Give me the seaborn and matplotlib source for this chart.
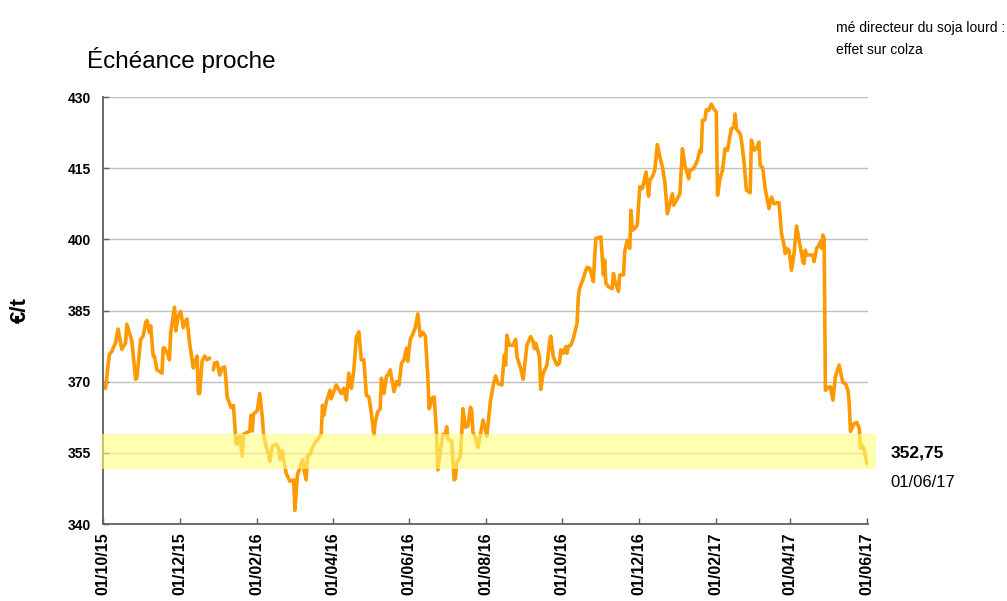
import numpy as np
import pandas as pd
import matplotlib
matplotlib.use("Agg")
import matplotlib.pyplot as plt
import matplotlib.dates as mdates
import matplotlib.transforms as mtransforms
import seaborn as sns

# --- DONNÉES ---
DEBUT = "2015-10-01"
FIN = "2017-06-02"

# jours depuis le 01/10/15 (NaN = trou de Noël)
jours = [
    0, 2, 5, 7, 10, 12, 15, 18, 19, 23,
    26, 27, 30, 32, 34, 35, 37, 38, 40, 41,
    43, 47, 48, 49, 51, 53, 54, 57, 58, 60,
    62, 64, 66, 67, 69, 72, 73, 75, 76, 77,
    79, 81, 83, 85, 86, 88, 89, 91, 93, 95,
    97, 98, 99, 102, 104, 106, 107, 109, 111, 112,
    115, 117, 118, 119, 120, 123, 125, 127, 128, 130,
    132, 133, 135, 138, 140, 141, 143, 144, 146, 148,
    149, 152, 153, 155, 157, 159, 160, 162, 163, 165,
    167, 169, 172, 174, 175, 176, 178, 181, 182, 184,
    186, 189, 190, 192, 194, 196, 198, 200, 202, 204,
    206, 208, 210, 212, 214, 216, 217, 219, 221, 222,
    224, 226, 228, 229, 232, 234, 236, 238, 240, 242,
    243, 245, 247, 249, 250, 251, 253, 255, 257, 259,
    260, 261, 262, 264, 266, 267, 269, 271, 273, 274,
    275, 277, 278, 280, 281, 282, 285, 286, 287, 289,
    291, 293, 294, 295, 297, 299, 301, 303, 305, 306,
    309, 311, 313, 315, 318, 320, 321, 322, 324, 327,
    329, 330, 333, 335, 337, 338, 341, 343, 344, 345,
    348, 349, 351, 354, 356, 357, 359, 362, 364, 365,
    367, 369, 370, 371, 373, 375, 378, 379, 380, 383,
    385, 386, 388, 390, 391, 392, 393, 397, 399, 400,
    401, 403, 406, 407, 408, 411, 412, 415, 416, 418,
    420, 421, 422, 424, 426, 428, 430, 431, 433, 435,
    436, 438, 440, 442, 444, 446, 448, 450, 452, 454,
    455, 458, 460, 462, 464, 467, 468, 471, 474, 476,
    477, 478, 480, 481, 483, 485, 487, 489, 490, 492,
    494, 496, 498, 500, 501, 503, 504, 505, 508, 509,
    511, 513, 516, 517, 519, 521, 523, 524, 526, 528,
    531, 533, 535, 537, 539, 541, 543, 544, 545, 547,
    549, 551, 553, 555, 557, 558, 559, 560, 561, 564,
    566, 567, 569, 571, 572, 573, 574, 575, 576, 579,
    580, 582, 584, 587, 588, 590, 592, 594, 595, 596,
    599, 601, 603, 604, 605, 607, 609,
]

prix = [
    368.9, 368.6, 375.7, 376.4, 378.2, 381.1, 376.8, 378.2, 382.1, 378.6,
    370.5, 370.7, 378.9, 379.6, 382.5, 382.9, 380.4, 381.8, 375.4, 375.4,
    372.5, 371.8, 377.1, 377.1, 376.1, 374.6, 380.4, 385.7, 380.7, 383.9,
    384.8, 381.4, 382.9, 383.2, 378.2, 372.9, 373.9, 375.4, 367.5, 367.5,
    374.3, 375.4, 374.6, 375.0, np.nan, 372.5, 373.9, 374.1, 371.4, 372.9,
    373.1, 370.4, 366.8, 364.6, 365.0, 357.1, 356.8, 358.6, 354.3, 358.9,
    359.3, 359.6, 362.9, 359.6, 363.2, 363.9, 367.5, 362.5, 358.9, 356.4,
    354.6, 353.2, 356.4, 356.8, 356.1, 353.6, 355.4, 353.6, 350.7, 349.6,
    349.0, 349.3, 342.9, 350.4, 351.8, 353.6, 351.8, 349.3, 354.3, 354.6,
    356.1, 357.1, 358.2, 358.9, 365.0, 362.9, 365.7, 368.2, 366.4, 367.9,
    369.3, 367.9, 367.5, 368.6, 366.1, 371.8, 368.6, 372.5, 379.3, 380.5,
    374.6, 374.6, 367.1, 366.8, 363.2, 358.8, 361.4, 363.6, 364.3, 370.7,
    367.5, 371.1, 371.8, 372.5, 367.9, 370.0, 369.3, 373.9, 374.6, 377.1,
    374.3, 378.9, 380.0, 381.4, 382.9, 384.3, 379.6, 380.4, 379.6, 371.1,
    364.3, 365.0, 366.4, 366.8, 358.9, 351.4, 355.4, 358.9, 358.9, 360.5,
    357.9, 357.5, 357.5, 349.3, 349.6, 352.9, 354.3, 358.9, 364.3, 360.4,
    360.7, 364.6, 363.9, 359.3, 358.2, 356.1, 359.0, 361.9, 359.8, 358.5,
    366.1, 369.0, 371.2, 369.6, 369.3, 375.6, 373.5, 379.8, 377.7, 377.7,
    378.9, 375.3, 372.8, 370.5, 375.3, 377.7, 379.5, 378.4, 377.0, 378.1,
    375.3, 368.4, 371.8, 373.5, 378.1, 379.6, 375.3, 373.5, 373.9, 376.7,
    376.0, 377.4, 376.0, 377.4, 377.7, 379.1, 382.3, 387.9, 389.6, 391.8,
    393.5, 394.1, 393.9, 392.1, 391.1, 396.3, 400.2, 400.5, 392.5, 395.6,
    390.7, 390.0, 389.6, 392.8, 391.4, 389.0, 392.5, 392.5, 397.4, 399.8,
    398.1, 406.1, 401.9, 402.3, 403.0, 411.1, 410.7, 411.8, 414.2, 409.1,
    412.5, 413.2, 414.6, 420.0, 417.4, 415.3, 412.1, 405.4, 407.5, 409.6,
    407.2, 408.6, 409.6, 419.1, 415.6, 412.8, 414.6, 414.9, 416.7, 418.8,
    418.4, 425.1, 425.2, 427.3, 427.2, 428.5, 427.5, 426.8, 409.3, 412.8,
    414.6, 419.1, 418.8, 421.9, 423.3, 423.7, 426.4, 423.3, 422.3, 420.9,
    416.7, 410.4, 409.8, 420.9, 418.8, 419.1, 420.5, 415.6, 415.1, 410.7,
    406.5, 408.9, 407.5, 407.7, 407.7, 401.2, 398.8, 397.0, 398.1, 397.7,
    393.5, 397.0, 402.8, 399.8, 397.0, 395.3, 394.9, 397.7, 396.7, 396.7,
    396.7, 395.3, 398.1, 398.8, 399.5, 398.1, 400.9, 400.2, 368.2, 368.9,
    368.9, 366.1, 371.1, 373.5, 372.1, 369.8, 369.6, 368.2, 365.4, 359.5,
    361.2, 361.4, 360.2, 356.0, 356.7, 355.6, 352.75,
]

zone_basse = [351.6, 359.0]
y_ticks = [340, 355, 370, 385, 400, 415, 430]
dernier_prix = "352,75"
derniere_date = "01/06/17"
titre = "Échéance proche"
commentaire = ["mé directeur du soja lourd :", "effet sur colza"]

# --- STYLE ---
sns.set_theme(style="white")
plt.rcParams["font.family"] = ["Liberation Sans", "DejaVu Sans"]
plt.rcParams["text.color"] = "black"

ORANGE = "#FF9900"
GRIS = "#5f5f5f"

df = pd.DataFrame({
    "date": pd.Timestamp(DEBUT) + pd.to_timedelta(jours, unit="D"),
    "prix": prix,
})
# un segment par morceau continu (coupure au NaN)
df["segment"] = df["prix"].isna().cumsum()

fig = plt.figure(figsize=(10.07, 6.01), dpi=100)
ax = fig.add_axes([0.1023, 0.1281, 0.7597, 0.7105])

sns.lineplot(data=df.dropna(), x="date", y="prix", units="segment",
             estimator=None, color=ORANGE, lw=2.6, ax=ax, zorder=2)

# zone jaune par-dessus la courbe
bande = ax.axhspan(zone_basse[0], zone_basse[1], xmin=-0.003, xmax=1.01,
                   color="#FFFF7B", alpha=0.6, lw=0, zorder=3)
bande.set_clip_on(False)

ax.set_xlim(pd.Timestamp(DEBUT), pd.Timestamp(FIN))
ax.set_ylim(340, 430)
ax.set_yticks(y_ticks)
ax.xaxis.set_major_locator(mdates.MonthLocator(bymonth=range(2, 13, 2)))
ax.xaxis.set_major_formatter(mdates.DateFormatter("%d/%m/%y"))

ax.set_axisbelow(True)
ax.yaxis.grid(True, color="#c0c0c0", lw=1)
ax.xaxis.grid(False)
ax.set_xlabel("")
ax.set_ylabel("")

for s in ["top", "right"]:
    ax.spines[s].set_visible(False)
for s in ["left", "bottom"]:
    ax.spines[s].set_color(GRIS)
    ax.spines[s].set_linewidth(1.3)

ax.tick_params(axis="both", direction="in", length=4, width=1, color=GRIS,
               left=True, bottom=True)
ax.tick_params(axis="y", pad=9, labelsize=10)
ax.tick_params(axis="x", pad=6, labelsize=11.5, labelrotation=90)
for lab in ax.get_xticklabels() + ax.get_yticklabels():
    lab.set_fontweight("bold")
    lab.set_color("black")

# --- TEXTES ---
fig.text(87 / 1007, 1 - 60 / 601, titre, fontsize=17.5, va="center", ha="left")
fig.text(20 / 1007, 1 - 310 / 601, "€/t", fontsize=16, fontweight="bold",
         rotation=90, va="center", ha="center")
fig.text(836 / 1007, 1 - 28 / 601, commentaire[0], fontsize=10, va="center")
fig.text(836 / 1007, 1 - 50 / 601, commentaire[1], fontsize=10, va="center")

trans = mtransforms.blended_transform_factory(ax.transAxes, ax.transData)
ax.text(1.029, 355.0, dernier_prix, transform=trans, fontsize=12.5,
        fontweight="bold", va="center", ha="left")
ax.text(1.029, 348.8, derniere_date, transform=trans, fontsize=12,
        va="center", ha="left")

fig.savefig("out.png", dpi=100)
